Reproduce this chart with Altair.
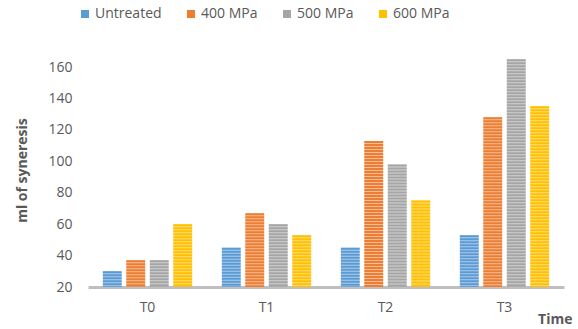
import altair as alt
import pandas as pd

times = ["T0", "T1", "T2", "T3"]
treatments = ["Untreated", "400 MPa", "500 MPa", "600 MPa"]
untreated = [30, 45, 45, 53]
mpa400 = [37, 67, 113, 128]
mpa500 = [37, 60, 98, 165]
mpa600 = [60, 53, 75, 135]
y_ticks = [20, 40, 60, 80, 100, 120, 140, 160]

colors = ["#5B9BD5", "#ED7D31", "#A5A5A5", "#FFC000"]

rows = []
for series, vals in zip(treatments, [untreated, mpa400, mpa500, mpa600]):
    for t, v in zip(times, vals):
        rows.append({"Time": t, "Treatment": series, "Value": v})
df = pd.DataFrame(rows)

FONT = "Open Sans"
GRAY = "#595959"

x = alt.X("Time:N", sort=times,
          scale=alt.Scale(paddingInner=0.25, paddingOuter=0.125),
          axis=alt.Axis(title="Time", labelAngle=0, ticks=False, domainColor="#BFBFBF",
                        domainWidth=3, labelPadding=13, labelFontSize=14,
                        labelColor=GRAY, labelFont=FONT, titleFont=FONT,
                        titleFontSize=14, titleFontWeight="bold", titleColor=GRAY,
                        titleAnchor="end", titleAlign="right", titleX=484, titleY=32,
                        titleBaseline="middle"))
xo = alt.XOffset("Treatment:N", sort=treatments,
                 scale=alt.Scale(paddingInner=0.2, paddingOuter=0))
y = alt.Y("Value:Q",
          scale=alt.Scale(domain=[20, 166.4], nice=False, zero=False),
          axis=alt.Axis(title="ml of syneresis", values=y_ticks, grid=False, ticks=False,
                        domain=False, labelPadding=16, labelFontSize=14, labelColor=GRAY,
                        labelFont=FONT, labelOverlap=False, labelFlush=False,
                        titleFont=FONT, titleFontSize=14,
                        titleFontWeight="bold", titleColor=GRAY, titleX=-66, titleY=113,
                        titleAlign="center", titleBaseline="middle"))

base = alt.Chart(df)

# pale bar body; the legend is taken from this layer at full opacity
bars = base.mark_bar(size=18.8, fillOpacity=0.5).encode(
    x=x, xOffset=xo, y=y, y2=alt.datum(20),
    fill=alt.Fill("Treatment:N", sort=treatments,
                  scale=alt.Scale(domain=treatments, range=colors),
                  legend=alt.Legend(title=None, orient="none", direction="horizontal",
                                    legendX=-10, legendY=-50, symbolType="square",
                                    symbolSize=64, symbolOpacity=1, symbolStrokeWidth=0,
                                    labelFontSize=14, labelColor=GRAY, labelFont=FONT,
                                    columnPadding=22, labelOffset=3)),
)

# horizontal striping drawn as a wide dashed rule over each bar
stripes = base.mark_rule(strokeWidth=18.8, strokeDash=[2, 1]).encode(
    x=x, xOffset=xo, y=y, y2=alt.datum(20),
    stroke=alt.Stroke("Treatment:N", sort=treatments,
                      scale=alt.Scale(domain=treatments, range=colors), legend=None),
)

chart = alt.layer(bars, stripes).properties(
    width=476, height=230,
    padding={"left": 88, "top": 57, "right": 14, "bottom": 42},
    autosize=alt.AutoSizeParams(type="none"),
).configure(background="white").configure_axis(labelOverlap=False).configure_view(stroke=None)

chart.save("out.html", embed_options={"renderer": "svg", "actions": False})
